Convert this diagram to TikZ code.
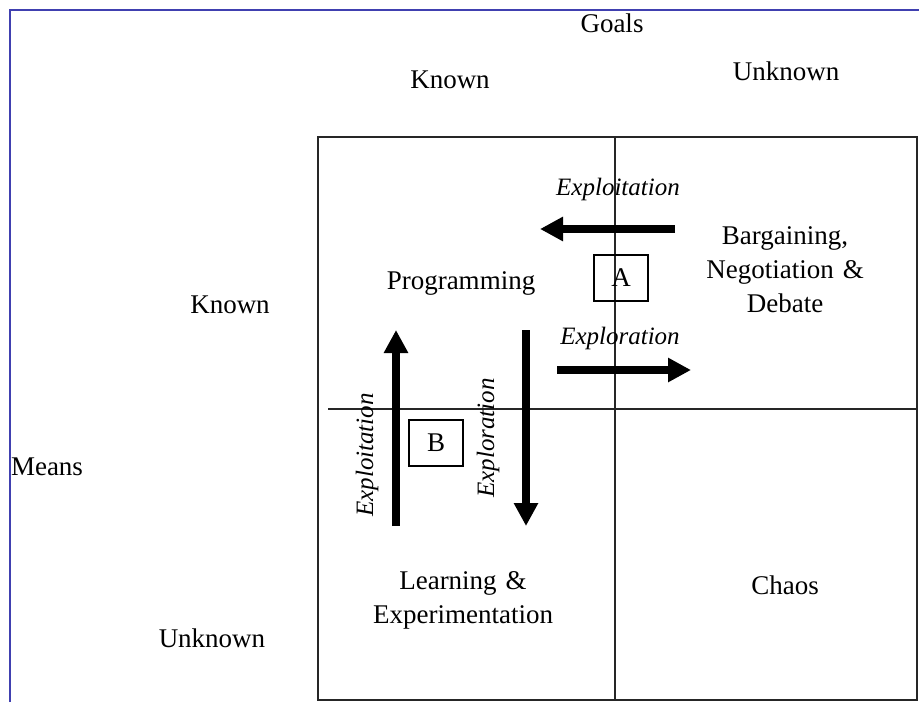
\documentclass[tikz,border=0pt]{standalone}
\usepackage{fontspec}
\setmainfont{Liberation Serif}
\usetikzlibrary{arrows.meta}
\definecolor{framblue}{RGB}{64,64,176}
\tikzset{
  lbl/.style={font=\fontsize{13.5}{16}\selectfont, inner sep=0pt, align=center},
  ital/.style={font=\fontsize{12.5}{15}\selectfont\itshape, inner sep=0pt},
  grid/.style={line width=1pt, black!85},
  bigarrow/.style={line width=4pt, -{Triangle[length=11.5pt,width=11.5pt]}},
  lettbox/.style={draw, line width=0.8pt, font=\fontsize{13.5}{16}\selectfont, minimum width=27pt, minimum height=23pt, inner sep=0pt}
}
\begin{document}
\begin{tikzpicture}[x=0.5pt,y=-0.5pt]
\useasboundingbox (0,0) rectangle (919,702);
% frame
\draw[framblue, line width=1pt] (10,702) -- (10,10) -- (919,10);
% grid
\coordinate (tl) at (318,137);
\coordinate (br) at (917,700);
\draw[grid] (tl) rectangle (br);
\coordinate (vt) at (615,137);
\coordinate (vb) at (615,700);
\draw[grid] (vt) -- (vb);
\coordinate (hl) at (328,409);
\coordinate (hr) at (917,409);
\draw[grid] (hl) -- (hr);
% axis labels
\node[lbl] (goals) at (612,23) {Goals};
\node[lbl] (gknown) at (450,80) {Known};
\node[lbl] (gunknown) at (786,71) {Unknown};
\node[lbl] (mknown) at (230,305) {Known};
\node[lbl] (means) at (47,467) {Means};
\node[lbl] (munknown) at (212,638) {Unknown};
% quadrant labels
\node[lbl] (prog) at (461,283) {Programming};
\node[lbl, text width=200pt] (barg) at (785,270) {Bargaining,\\[1pt]Negotiation \&\\[1pt]Debate};
\node[lbl] (chaos) at (785,585) {Chaos};
\node[lbl, text width=200pt] (learn) at (463,600) {Learning \&\\[1pt]Experimentation};
% boxes
\node[lettbox] (A) at (621,278) {A};
\node[lettbox] (B) at (436,443) {B};
% arrows
\coordinate (a1s) at (675,229); \coordinate (a1e) at (540,229);
\draw[bigarrow] (a1s) -- (a1e);
\node[ital] (l1) at (618,189) {Exploitation};
\coordinate (a2s) at (557,370); \coordinate (a2e) at (691,370);
\draw[bigarrow] (a2s) -- (a2e);
\node[ital] (l2) at (620,338) {Exploration};
\coordinate (a3s) at (396,526); \coordinate (a3e) at (396,330);
\draw[bigarrow] (a3s) -- (a3e);
\node[ital, rotate=90] (l3) at (367,455) {Exploitation};
\coordinate (a4s) at (526,330); \coordinate (a4e) at (526,526);
\draw[bigarrow] (a4s) -- (a4e);
\node[ital, rotate=90] (l4) at (488,438) {Exploration};
\end{tikzpicture}
\end{document}
